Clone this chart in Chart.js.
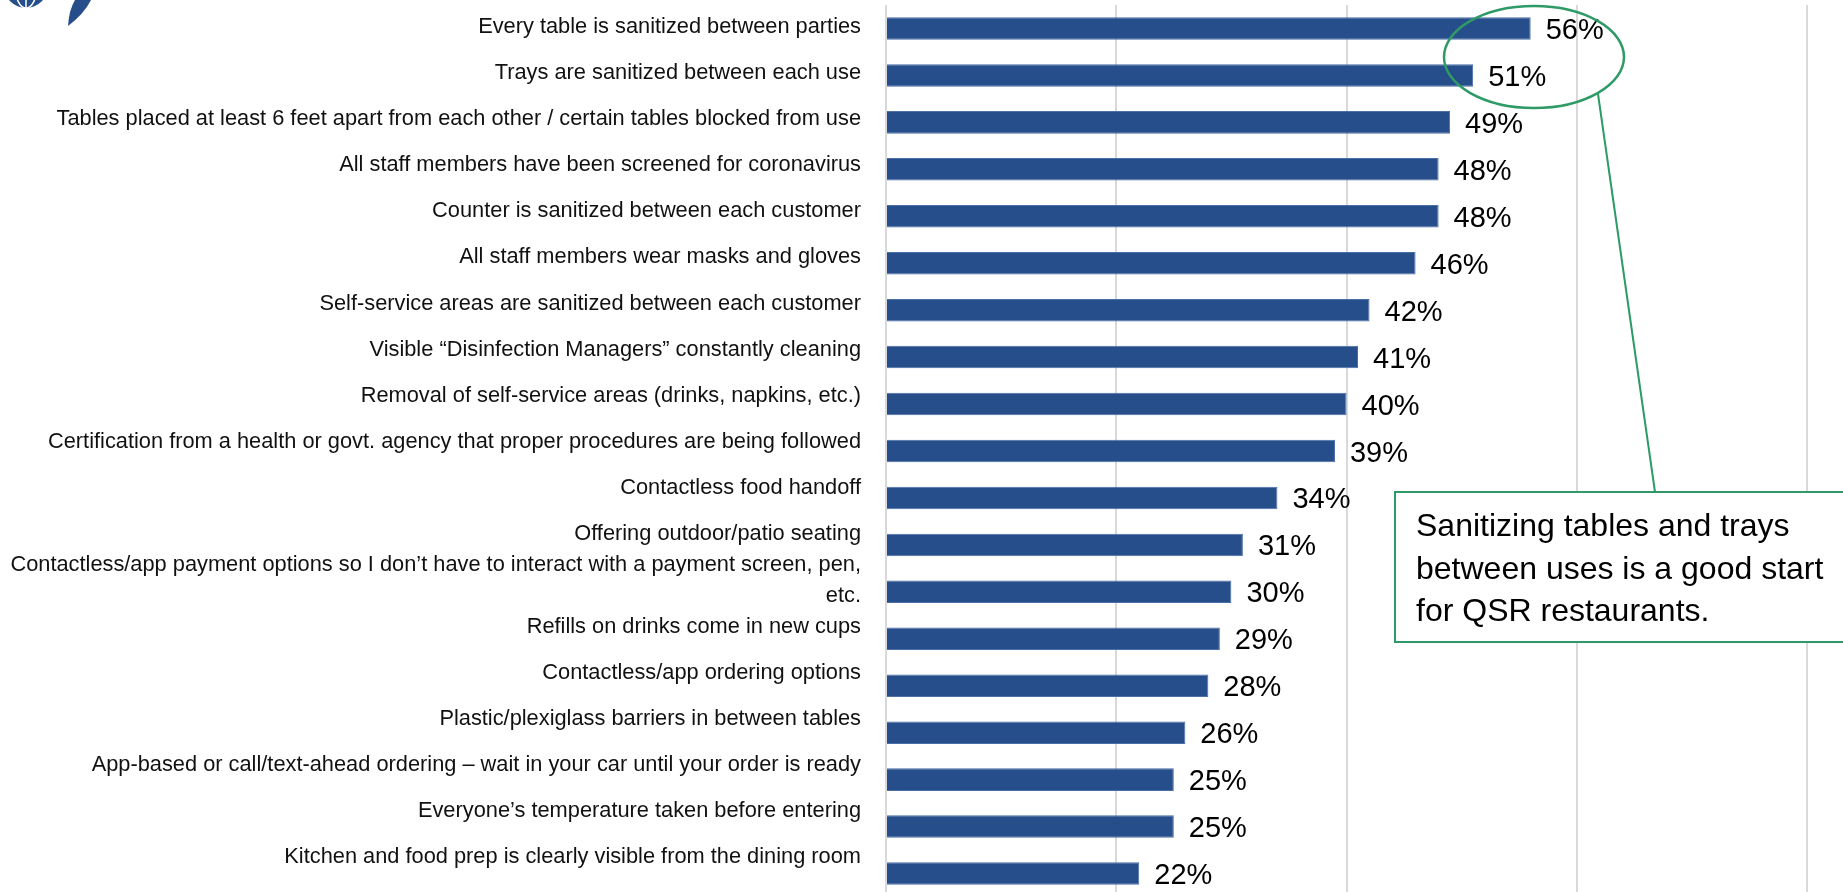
<!DOCTYPE html>
<html>
<head>
<meta charset="utf-8">
<title>Restaurant safety measures</title>
<script src="https://cdn.jsdelivr.net/npm/chart.js@4.4.1/dist/chart.umd.min.js"></script>
<style>
  html, body { margin: 0; padding: 0; background: #fff; overflow: hidden; }
  #wrap { position: relative; width: 1843px; height: 897px; }
</style>
</head>
<body>
<div id="wrap"><canvas id="safetyChart" width="1843" height="897"></canvas></div>
<script>
// Measures, top to bottom
const measures = [
    'Every table is sanitized between parties',
    'Trays are sanitized between each use',
    'Tables placed at least 6 feet apart from each other / certain tables blocked from use',
    'All staff members have been screened for coronavirus',
    'Counter is sanitized between each customer',
    'All staff members wear masks and gloves',
    'Self-service areas are sanitized between each customer',
    'Visible \u201cDisinfection Managers\u201d constantly cleaning',
    'Removal of self-service areas (drinks, napkins, etc.)',
    'Certification from a health or govt. agency that proper procedures are being followed',
    'Contactless food handoff',
    'Offering outdoor/patio seating',
    ['Contactless/app payment options so I don\u2019t have to interact with a payment screen, pen,', 'etc.'],
    'Refills on drinks come in new cups',
    'Contactless/app ordering options',
    'Plastic/plexiglass barriers in between tables',
    'App-based or call/text-ahead ordering \u2013 wait in your car until your order is ready',
    'Everyone\u2019s temperature taken before entering',
    'Kitchen and food prep is clearly visible from the dining room'
];

// Share of respondents (%)
const shares = [56, 51, 49, 48, 48, 46, 42, 41, 40, 39, 34, 31, 30, 29, 28, 26, 25, 25, 22];

// Gridline values on the percentage axis
const gridTicks = [0, 20, 40, 60, 80];

const calloutLines = [
    'Sanitizing tables and trays',
    'between uses is a good start',
    'for QSR restaurants.'
];

const NAVY = '#264E8A';
const GREEN = '#2E9A66';
const FONT = '"Liberation Sans", Arial, sans-serif';

// percentage labels at the end of every bar
const valueLabels = {
    id: 'valueLabels',
    afterDatasetsDraw(chart) {
        const ctx = chart.ctx;
        const meta = chart.getDatasetMeta(0);
        ctx.save();
        ctx.font = '29px ' + FONT;
        ctx.fillStyle = '#000';
        ctx.textAlign = 'left';
        ctx.textBaseline = 'alphabetic';
        meta.data.forEach((bar, i) => {
            ctx.fillText(shares[i] + '%', bar.x + 15, bar.y + 10.5);
        });
        ctx.restore();
    }
};

// corner of the brand mark peeking in at the top left
const cornerLogo = {
    id: 'cornerLogo',
    afterDraw(chart) {
        const ctx = chart.ctx;
        ctx.save();
        ctx.fillStyle = NAVY;
        ctx.beginPath();
        ctx.arc(26, -14, 22, 0, Math.PI * 2);
        ctx.fill();
        ctx.strokeStyle = '#fff';
        ctx.lineWidth = 1.5;
        ctx.beginPath();
        ctx.moveTo(26, -14);
        ctx.lineTo(26, 10);
        ctx.stroke();
        ctx.beginPath();
        ctx.ellipse(26, -14, 11, 22, 0, 0, Math.PI * 2);
        ctx.stroke();
        // swoosh
        ctx.fillStyle = NAVY;
        ctx.beginPath();
        ctx.moveTo(75, 0);
        ctx.lineTo(91, 0);
        ctx.quadraticCurveTo(84, 14, 68, 26);
        ctx.quadraticCurveTo(69, 10, 75, 0);
        ctx.fill();
        ctx.restore();
    }
};

// ellipse around the top two bars with a note box
const callout = {
    id: 'callout',
    afterDraw(chart) {
        const ctx = chart.ctx;
        ctx.save();
        ctx.strokeStyle = GREEN;
        ctx.lineWidth = 2.5;
        ctx.beginPath();
        ctx.ellipse(1534, 57, 90, 51, 0, 0, Math.PI * 2);
        ctx.stroke();

        ctx.lineWidth = 2;
        ctx.beginPath();
        ctx.moveTo(1598, 94);
        ctx.lineTo(1655, 492);
        ctx.stroke();

        ctx.fillStyle = '#fff';
        ctx.fillRect(1395, 492, 470, 150);
        ctx.strokeRect(1395, 492, 470, 150);

        ctx.fillStyle = '#000';
        ctx.font = '32px ' + FONT;
        ctx.textBaseline = 'alphabetic';
        calloutLines.forEach((line, i) => {
            ctx.fillText(line, 1416, 536 + i * 42.5);
        });
        ctx.restore();
    }
};

const ctx = document.getElementById('safetyChart').getContext('2d');
new Chart(ctx, {
    type: 'bar',
    data: {
        labels: measures,
        datasets: [{
            data: shares,
            backgroundColor: NAVY,
            borderColor: '#4A6FA6',
            borderWidth: 1,
            categoryPercentage: 1,
            barPercentage: 0.48
        }]
    },
    options: {
        indexAxis: 'y',
        responsive: false,
        animation: false,
        devicePixelRatio: 1,
        layout: { padding: { top: 5, right: 36, bottom: 0, left: 0 } },
        plugins: {
            legend: { display: false },
            tooltip: { enabled: false }
        },
        scales: {
            x: {
                min: 0,
                max: 80,
                afterBuildTicks(scale) {
                    scale.ticks = gridTicks.map(v => ({ value: v }));
                },
                ticks: { display: false },
                grid: { color: '#D9D9D9', lineWidth: 2, drawTicks: false },
                border: { display: false }
            },
            y: {
                display: false
            },
            // text column for the measure names, spaced slightly tighter than the bars
            names: {
                type: 'linear',
                position: 'left',
                reverse: true,
                offset: false,
                min: -0.47,
                max: 18.86,
                afterBuildTicks(scale) {
                    scale.ticks = measures.map((_, i) => ({ value: i }));
                },
                afterFit(scale) {
                    scale.width = 886;
                    scale.paddingTop = 0;
                    scale.paddingBottom = 0;
                },
                ticks: {
                    autoSkip: false,
                    padding: 17,
                    color: '#111',
                    font: { family: FONT, size: 21.8, lineHeight: 1.4 },
                    callback: (value) => measures[value]
                },
                grid: { display: false, offset: false },
                border: { display: false }
            }
        }
    },
    plugins: [valueLabels, cornerLogo, callout]
});
</script>
</body>
</html>
